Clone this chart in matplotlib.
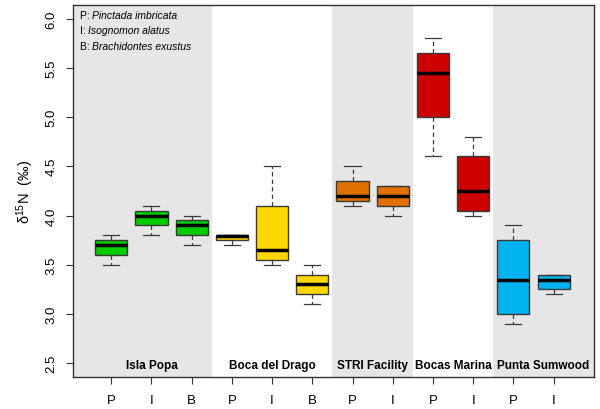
import matplotlib
matplotlib.use("Agg")
import matplotlib.pyplot as plt

plt.rcParams.update({"font.family": ["Liberation Sans", "DejaVu Sans"],
                     "mathtext.default": "regular"})

# site groups
sites = ["Isla Popa", "Boca del Drago", "STRI Facility", "Bocas Marina", "Punta Sumwood"]
site_species = [["P", "I", "B"], ["P", "I", "B"], ["P", "I"], ["P", "I"], ["P", "I"]]
site_colors = ["#00CC00", "#FFD700", "#E07000", "#CC0000", "#00B2EE"]
site_shaded = [True, False, True, False, True]

# box stats per box: whisker low, q1, median, q3, whisker high
whislo = [3.50, 3.80, 3.70, 3.70, 3.50, 3.10, 4.10, 4.00, 4.60, 4.00, 2.90, 3.20]
q1     = [3.60, 3.90, 3.80, 3.75, 3.55, 3.20, 4.15, 4.10, 5.00, 4.05, 3.00, 3.25]
med    = [3.70, 4.00, 3.90, 3.79, 3.65, 3.30, 4.20, 4.20, 5.45, 4.25, 3.35, 3.35]
q3     = [3.75, 4.05, 3.95, 3.80, 4.10, 3.40, 4.35, 4.30, 5.65, 4.60, 3.75, 3.40]
whishi = [3.80, 4.10, 4.00, 3.80, 4.50, 3.50, 4.50, 4.30, 5.80, 4.80, 3.90, 3.40]

fig = plt.figure(figsize=(6.0, 4.1), dpi=100)
ax = fig.add_axes([0.1217, 0.078, 0.868, 0.908])

# background bands + group labels
pos, colors, labels = [], [], []
start = 1
label_x = [2, 5, 7.5, 9.5, 11.75]
for i, (s, sp) in enumerate(zip(sites, site_species)):
    n = len(sp)
    lo, hi = start - 0.5, start + n - 0.5
    if i == 0:
        lo = 0
    if i == len(sites) - 1:
        hi = 13
    if site_shaded[i]:
        ax.axvspan(lo, hi, color="#E6E6E6", lw=0, zorder=0)
    ax.text(label_x[i], 2.48, s, ha="center", va="center",
            fontsize=8.5, fontweight="bold", zorder=3)
    for k in range(n):
        pos.append(start + k)
        colors.append(site_colors[i])
        labels.append(sp[k])
    start += n

stats = [dict(whislo=a, q1=b, med=c, q3=d, whishi=e, fliers=[])
         for a, b, c, d, e in zip(whislo, q1, med, q3, whishi)]
bp = ax.bxp(stats, positions=pos, widths=0.8, patch_artist=True,
            showfliers=False,
            boxprops=dict(edgecolor="#3A3A3A", linewidth=1.0),
            medianprops=dict(color="black", linewidth=2.5),
            whiskerprops=dict(color="#3A3A3A", linestyle=(0, (3.5, 2.5)), linewidth=0.9),
            capprops=dict(color="#3A3A3A", linewidth=0.9),
            capwidths=0.4)
for patch, c in zip(bp["boxes"], colors):
    patch.set_facecolor(c)
    patch.set_zorder(2)

ax.set_xlim(0.05, 13)
ax.set_ylim(2.36, 6.14)
ax.set_yticks([2.5, 3.0, 3.5, 4.0, 4.5, 5.0, 5.5, 6.0])
ax.set_yticklabels([f"{v:.1f}" for v in ax.get_yticks()], rotation=90,
                   va="center", fontsize=9.5)
ax.set_xticks(pos)
ax.set_xticklabels(labels, fontsize=9.5)
ax.tick_params(axis="x", length=5, pad=7, color="#333333")
ax.tick_params(axis="y", length=5, pad=6, color="#333333")
for sp_ in ax.spines.values():
    sp_.set_color("#333333")
    sp_.set_linewidth(1.0)
    sp_.set_zorder(4)

ax.set_ylabel(r"$\delta^{15}$N  (‰)", fontsize=10.5, labelpad=7)

# species key
key = [("P", "Pinctada imbricata"), ("I", "Isognomon alatus"), ("B", "Brachidontes exustus")]
for j, (abbr, name) in enumerate(key):
    y = 6.04 - j * 0.158
    t = ax.text(0.22, y, f"{abbr}: ", fontsize=7.5, va="center", zorder=3)
    ax.annotate(name, xycoords=t, xy=(1, 0.5), va="center", fontsize=7.5,
                style="italic", zorder=3)

fig.savefig("out.png", dpi=100)
